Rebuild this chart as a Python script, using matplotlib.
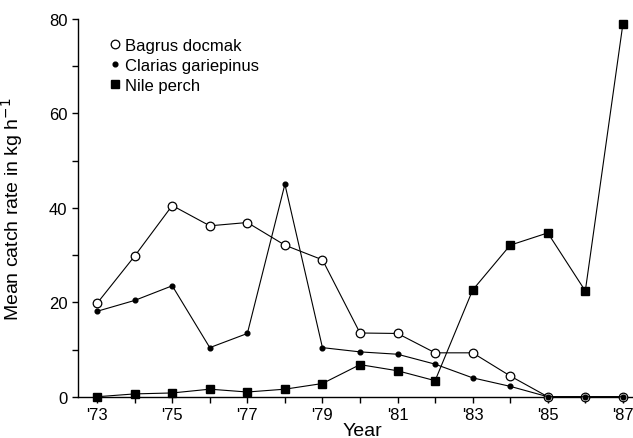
import matplotlib
matplotlib.use('Agg')
import matplotlib.pyplot as plt

plt.rcParams['font.family'] = ['Liberation Sans', 'DejaVu Sans']

years = list(range(1973, 1988))
year_labels = ["'73", "", "'75", "", "'77", "", "'79", "", "'81", "", "'83", "", "'85", "", "'87"]

bagrus = [19.8, 29.8, 40.5, 36.2, 36.9, 32.1, 29.0, 13.5, 13.4, 9.3, 9.3, 4.4, 0.0, 0.0, 0.0]
clarias = [18.1, 20.4, 23.5, 10.4, 13.4, 45.0, 10.4, 9.5, 9.0, 6.9, 4.0, 2.2, 0.0, 0.0, 0.0]
nile_perch = [0.0, 0.6, 0.8, 1.6, 1.0, 1.6, 2.8, 6.8, 5.5, 3.4, 22.6, 32.1, 34.7, 22.4, 78.9]

fig = plt.figure(figsize=(6.33, 4.39), dpi=100)
ax = fig.add_axes([0.1232, 0.094, 0.8768, 0.8604])

lw = 0.8
ax.plot(years, nile_perch, color='black', lw=lw, marker='s', markersize=5.6,
        markerfacecolor='black', markeredgecolor='black', clip_on=False,
        label='Nile perch', zorder=3)
ax.plot(years, bagrus, color='black', lw=lw, marker='o', markersize=6.2,
        markerfacecolor='white', markeredgecolor='black', markeredgewidth=0.9,
        clip_on=False, label='Bagrus docmak', zorder=4)
ax.plot(years, clarias, color='black', lw=lw, marker='o', markersize=3.4,
        markerfacecolor='black', markeredgecolor='black', clip_on=False,
        label='Clarias gariepinus', zorder=5)

ax.set_xlim(1972.49, 1987.27)
ax.set_ylim(0, 80)

ax.spines['top'].set_visible(False)
ax.spines['right'].set_visible(False)
for s in ('left', 'bottom'):
    ax.spines[s].set_linewidth(1.0)

ax.set_xticks(years)
ax.set_xticklabels(year_labels)
ax.set_yticks(range(0, 81, 10))
ax.set_yticklabels([str(v) if v % 20 == 0 else '' for v in range(0, 81, 10)])
ax.tick_params(axis='both', direction='out', length=4, width=1.0,
               labelsize=12, pad=3.5)

ax.set_xlabel('Year', fontsize=14)
ax.xaxis.set_label_coords(0.512, -0.068)
ax.set_ylabel('Mean catch rate in kg h$^{-1}$', fontsize=14)
ax.yaxis.set_label_coords(-0.095, 0.5)

handles, labels = ax.get_legend_handles_labels()
order = [1, 2, 0]
leg = ax.legend([handles[i] for i in order], [labels[i] for i in order],
                loc='upper left', bbox_to_anchor=(0.045, 0.98), frameon=False,
                fontsize=12, handlelength=0, handletextpad=0.6,
                labelspacing=0.3, borderpad=0.2)

plt.savefig('out.png', dpi=100)
plt.close()
